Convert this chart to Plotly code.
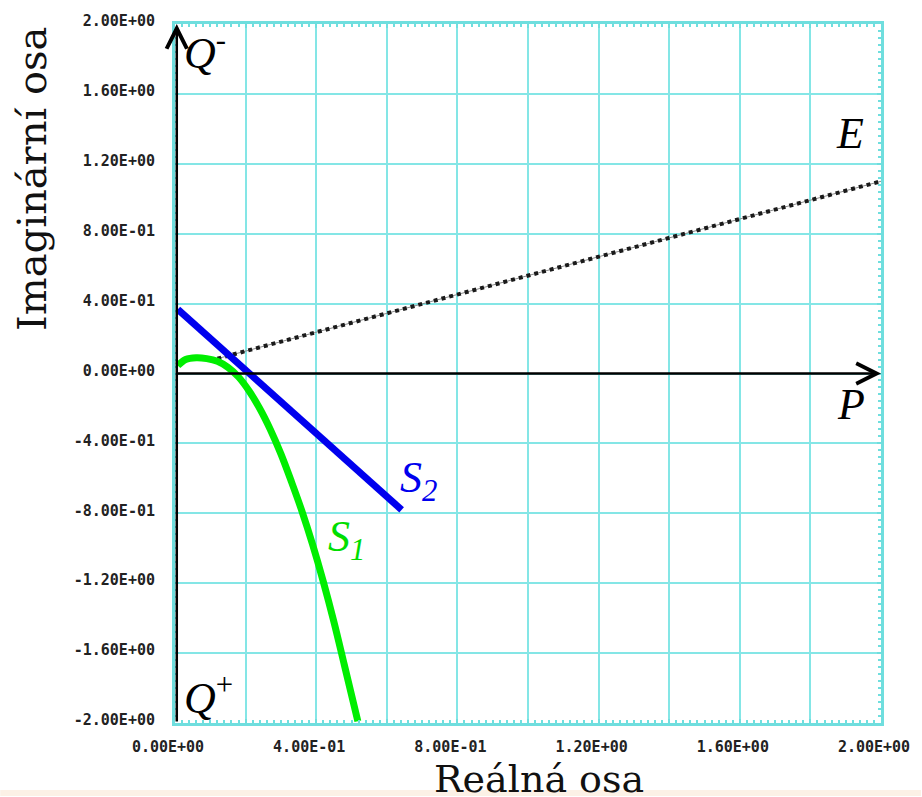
import plotly.graph_objects as go

# ---- data ----
s1_x = [0.008, 0.03, 0.06, 0.09, 0.12, 0.15, 0.18, 0.21, 0.24, 0.27, 0.30, 0.33, 0.36, 0.39, 0.42, 0.45, 0.48, 0.518]
s1_y = [0.045, 0.08, 0.09, 0.085, 0.07, 0.035, -0.02, -0.10, -0.20, -0.32, -0.46, -0.62, -0.79, -0.98, -1.19, -1.42, -1.67, -1.99]

s2_x = [0.008, 0.642]
s2_y = [0.367, -0.78]

e_x = [0.12, 2.0]
e_y = [0.085, 1.10]

x_tickvals = [0.0, 0.2, 0.4, 0.6, 0.8, 1.0, 1.2, 1.4, 1.6, 1.8, 2.0]
x_ticktext = ["0.00E+00", "", "4.00E-01", "", "8.00E-01", "", "1.20E+00", "", "1.60E+00", "", "2.00E+00"]
y_tickvals = [-2.0, -1.6, -1.2, -0.8, -0.4, 0.0, 0.4, 0.8, 1.2, 1.6, 2.0]
y_ticktext = ["-2.00E+00", "-1.60E+00", "-1.20E+00", "-8.00E-01", "-4.00E-01", "0.00E+00",
              "4.00E-01", "8.00E-01", "1.20E+00", "1.60E+00", "2.00E+00"]

GRID = "#84e6e6"
BORDER = "#6fdede"

fig = go.Figure()

# E : dotted series
fig.add_trace(go.Scatter(x=e_x, y=e_y, mode="lines",
                         line=dict(color="#8a8a8a", width=1), hoverinfo="skip", showlegend=False))
fig.add_trace(go.Scatter(x=e_x, y=e_y, mode="lines",
                         line=dict(color="#1a1a1a", width=4, dash="dot"), showlegend=False))
# S1 green curve
fig.add_trace(go.Scatter(x=s1_x, y=s1_y, mode="lines", line=dict(color="#00ee00", width=7, shape="spline"),
                         showlegend=False))
# S2 blue line
fig.add_trace(go.Scatter(x=s2_x, y=s2_y, mode="lines", line=dict(color="#0000ee", width=7),
                         showlegend=False))

tickfont = dict(family="DejaVu Sans Mono", size=15, color="#222222", weight="bold")

fig.update_xaxes(range=[0, 2.0], tickvals=x_tickvals, ticktext=x_ticktext,
                 showgrid=True, gridcolor=GRID, gridwidth=2, zeroline=False,
                 showline=True, linecolor=BORDER, linewidth=3, mirror="ticks",
                 ticks="inside", ticklen=4, tickcolor=BORDER, tickwidth=2,
                 minor=dict(dtick=0.02, ticks="inside", ticklen=3, tickcolor=BORDER, tickwidth=1.5, showgrid=False),
                 tickfont=tickfont, ticklabelstandoff=8, ticklabelshift=-7)
fig.update_yaxes(range=[-2.0, 2.0], tickvals=y_tickvals, ticktext=y_ticktext,
                 showgrid=True, gridcolor=GRID, gridwidth=2, zeroline=False,
                 showline=True, linecolor=BORDER, linewidth=3, mirror="ticks",
                 ticks="inside", ticklen=4, tickcolor=BORDER, tickwidth=2,
                 minor=dict(dtick=0.04, ticks="inside", ticklen=3, tickcolor=BORDER, tickwidth=1.5, showgrid=False),
                 tickfont=tickfont, ticklabelstandoff=14, ticklabelshift=-3)

# Axis arrows
fig.add_annotation(x=0.005, y=2.0, ax=0.005, ay=-2.0, xref="x", yref="y", axref="x", ayref="y",
                   showarrow=True, arrowhead=5, arrowsize=1.6, arrowwidth=2.5, arrowcolor="black",
                   text="", standoff=0, startstandoff=0)
fig.add_annotation(x=2.0, y=0.0, ax=0.0, ay=0.0, xref="x", yref="y", axref="x", ayref="y",
                   showarrow=True, arrowhead=5, arrowsize=1.6, arrowwidth=2.5, arrowcolor="black",
                   text="", standoff=0, startstandoff=0)

lab = dict(family="Liberation Serif", size=44, color="black")
def label(x, y, text, color="black"):
    fig.add_annotation(x=x, y=y, xref="x", yref="y", text=text, showarrow=False,
                       font=dict(lab, color=color), xanchor="center", yanchor="middle")

label(0.085, 1.85, "<i>Q</i><sup>-</sup>")
label(1.912, 1.375, "<i>E</i>")
label(1.915, -0.175, "<i>P</i>")
label(0.69, -0.61, "<i>S<sub>2</sub></i>", "#0000ee")
label(0.485, -0.95, "<i>S<sub>1</sub></i>", "#00dd00")
label(0.095, -1.84, "<i>Q</i><sup>+</sup>")

L, R, T, B = 175, 40, 14, 74
W, H = 922, 797
pw, ph = W - L - R, H - T - B

def px2paper(px, py):
    return (px - L) / pw, (H - B - py) / ph

title_font = dict(family="DejaVu Serif", size=38, color="#111111")
tx, ty = px2paper(540, 780)
fig.add_annotation(x=tx, y=ty, xref="paper", yref="paper", text="Reálná osa", showarrow=False,
                   font=title_font, xanchor="center", yanchor="middle")
tx, ty = px2paper(32, 171)
fig.add_annotation(x=tx, y=ty, xref="paper", yref="paper", text="Imaginární osa", showarrow=False,
                   font=dict(title_font, size=40), textangle=-90, xanchor="center", yanchor="middle")

# beige strip at the bottom
x0, y0 = px2paper(0, 797)
x1, y1 = px2paper(W, 791)
fig.add_shape(type="rect", xref="paper", yref="paper", x0=x0, x1=x1, y0=y0, y1=y1,
              fillcolor="#fcf1e6", line=dict(width=0), layer="above")

fig.update_layout(width=W, height=H, margin=dict(l=L, r=R, t=T, b=B),
                  plot_bgcolor="white", paper_bgcolor="white", showlegend=False)

fig.write_html("out.html")
